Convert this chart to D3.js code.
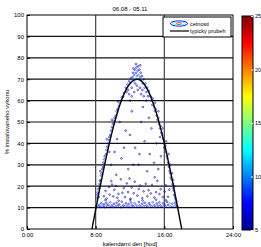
<!DOCTYPE html>
<html><head><meta charset="utf-8">
<script src="https://cdn.jsdelivr.net/npm/d3@7"></script>
<style>body{margin:0;background:#fff}svg{display:block}text{font-family:"Liberation Sans",Arial,sans-serif}</style>
</head><body>
<script>
const titleText = "06.08 - 05.11";
const xLabel = "kalendarni den [hod]";
const yLabel = "% instalovaneho vykonu";
const xTickValues = [0, 8, 16, 24];
const xTickLabels = ["0:00", "8:00", "16:00", "24:00"];
const yTickValues = [0,10,20,30,40,50,60,70,80,90,100];
const cbTickValues = [5,10,15,20,25];
const legendLabels = ["cetnosti", "typicky prubeh"];

// typical curve (hour, % value)
const curveHour = [7.57,8,8.5,9,9.5,10,10.5,11,11.5,12,12.5,12.8,13,13.5,14,14.5,15,15.5,16,16.5,17,17.5,18.03];
const curveValue = [0,9,19.3,29.1,38.4,46.7,54,60,64.8,68,69.7,70,69.9,68.5,65.5,61,55.2,48.2,40.1,31,21.4,11.1,0];

// scatter points: hour, value, count
const ptHour = [
8.05,8.1,8.15,8.12,8.2,8.25,8.3,8.4,8.45,8.5,8.6,8.62,8.7,8.75,8.85,8.9,9.0,9.05,9.2,9.25,9.35,9.45,9.55,9.6,9.7,9.8,9.9,10.0,10.1,10.2,10.35,10.45,10.55,10.7,10.8,10.95,11.05,11.2,11.3,9.3,9.9,10.6,8.35,8.55,9.6,
11.5,11.6,11.7,11.8,11.9,12.0,12.1,12.2,12.3,12.35,12.4,12.5,12.55,12.6,12.7,12.75,12.8,12.9,12.95,13.0,13.05,13.1,13.2,13.25,13.3,13.4,13.5,13.6,13.7,13.8,13.9,14.0,14.1,14.2,12.2,12.5,12.9,13.3,13.6,12.0,12.8,13.15,13.9,11.9,12.4,13.2,12.7,12.6,13.45,
14.4,14.5,14.65,14.6,14.8,14.9,15.0,15.1,15.2,15.3,15.4,15.5,15.6,15.65,15.75,15.85,15.95,16.0,16.1,16.2,16.3,16.35,16.45,16.55,16.6,16.7,16.75,16.85,16.95,17.0,17.1,17.15,17.25,17.3,17.4,17.2,16.9,16.5,16.2,15.8,15.3,14.9,16.7,17.0,15.5,
8.32,8.41,8.58,8.66,8.83,8.97,9.02,9.23,9.28,9.47,9.63,9.71,9.88,10.02,10.13,10.33,10.44,10.62,10.73,10.93,11.04,11.22,11.33,11.52,11.62,11.83,11.93,12.12,12.23,12.42,12.53,12.72,12.83,13.03,13.12,13.32,13.43,13.62,13.73,13.92,14.03,14.22,14.33,14.52,14.63,14.82,14.93,15.12,15.23,15.42,15.53,15.72,15.83,16.02,16.13,16.32,16.43,16.62,16.73,16.92,17.03,17.22,17.33,17.52,9.14,10.68,12.04,13.47,15.02,16.18,
8.95,9.15,9.27,9.55,9.62,9.83,10.04,10.18,10.36,10.52,10.66,10.93,11.12,11.27,11.41,11.63,11.78,12.06,12.19,12.43,12.57,12.86,13.02,13.17,13.44,13.58,13.83,14.03,14.16,14.42,14.57,14.84,15.03,15.18,15.43,15.57,15.82,16.04,16.17,16.43,16.58,10.41,11.94,14.88,9.91,
10.5,11.0,11.5,11.8,12.2,12.6,13.0,13.3,13.7,14.0,14.3,14.5,14.8,15.1,15.3,10.8,12.0,13.5,14.2,11.3,9.8,10.2,15.6,13.1,12.4
];
const ptValue = [
10.5,12,13,14.5,16,17,18.5,19,21,22.5,23,25,26,28,29,31,32.5,34,35,37,38.5,40,41.5,43,44,46,47.5,49,50.5,52,53,55,56,57.5,59,60,61.5,62,63.5,42,51,59.5,15,27,36,
66,64,67.5,65,69,68,70.5,66,71,73,69,72,74.5,70,73,75.5,71.5,74,76,72,70,74.5,71,73,69.5,71.5,68,70,66,68,64,66,62,64.5,62,64,65,63,62,60,67,66,60,63,75,76.5,77,68,65,
62,60,61,58,57,55,56,53,51,52,49,47,48,45,44,42,40,38,39,36,34,33,31,29,27,26,24,23,21,19,18,16,15,14,13,20,26,35,41,47,55,59,30,23,43,
10.5,11.2,10.3,12,10.8,11.5,10.2,12.3,10.9,11.4,10.4,12.5,11,10.3,11.8,10.6,12.2,10.9,11.5,10.2,12.8,11,10.5,12,10.8,11.6,10.3,12.4,11,10.5,12,11.2,10.4,12.6,11,10.3,11.8,10.7,12.3,11,10.4,12,11.2,10.5,12.5,11,10.3,11.9,10.8,12.4,11,10.4,12.1,11.3,10.6,12.7,11.2,12,10.5,11.8,10.3,12.2,11,10.5,13.5,13.2,13.6,13.3,13.7,13.4,
15.3,17.8,14.2,19.6,16.1,22.4,15.2,18.3,20.1,14.6,16.4,23.2,16.9,19.1,14.9,21.3,17.2,14.1,19.4,16.7,22.1,15.6,18.7,20.3,14.4,17.6,21.1,15.3,18.1,16.6,20.6,14.7,17.2,22.5,16.3,18.6,14.9,17.5,20.4,15.1,18.4,25.3,23.6,24.2,20.8,
42,33,46,28,55,38,30,50,41,27,35,47,31,40,28,50,44,57,52,38,30,36,34,35,30
];
const ptCount = [
9,12,14,10,8,7,9,6,8,7,6,9,7,8,6,7,8,6,7,9,6,7,8,6,7,8,6,7,9,6,7,8,6,7,9,6,7,8,6,5,6,6,5,5,6,
7,6,8,6,7,9,7,6,8,7,10,9,7,11,8,7,9,8,6,10,8,7,8,6,9,7,8,6,9,7,8,6,7,8,6,5,6,5,6,5,6,5,6,5,6,5,5,7,6,
7,8,6,7,9,6,7,8,6,7,8,6,9,7,6,7,8,6,7,8,6,9,7,6,8,7,6,9,7,8,6,7,8,6,9,6,5,5,5,6,5,5,6,5,5,
8,7,6,7,9,6,7,6,8,7,6,9,7,8,6,7,6,8,7,6,7,6,8,7,9,6,7,8,6,7,9,10,7,6,8,7,6,9,7,8,6,7,8,6,9,7,8,6,7,8,6,7,9,7,8,7,6,11,8,9,7,8,6,7,5,6,5,6,5,6,
6,5,6,5,6,5,6,5,6,5,6,5,6,5,6,5,6,5,6,5,6,5,6,5,6,5,6,5,6,5,6,5,6,5,6,5,6,5,6,5,6,5,5,6,5,
5,5,5,6,5,5,5,6,5,5,5,6,5,5,5,5,5,5,5,5,5,5,5,6,5
];

const W = 261, H = 247;
const x = d3.scaleLinear().domain([0, 24]).range([27, 233]);
const y = d3.scaleLinear().domain([0, 100]).range([229, 15]);
const jetStops = ["#00008f","#0000ff","#0080ff","#00ffff","#80ff80","#ffff00","#ff8000","#ff0000","#800000"];
const jet = d3.scaleLinear().domain(d3.range(jetStops.length).map(i => i/(jetStops.length-1))).range(jetStops);
const cScale = d3.scaleLinear().domain([5, 25]).range([0, 1]).clamp(true);
const cbY = d3.scaleLinear().domain([5, 25]).range([230, 16]);

const svg = d3.select("body").append("svg").attr("width", W).attr("height", H);
svg.append("defs").append("clipPath").attr("id","pc").append("rect")
  .attr("x", 27).attr("y", 15).attr("width", 206).attr("height", 214);

// grid
const g = svg.append("g");
g.selectAll("line.h").data(yTickValues.slice(1, -1)).enter().append("line")
  .attr("x1", x(0)).attr("x2", x(24)).attr("y1", d => y(d)).attr("y2", d => y(d))
  .attr("stroke", "#111").attr("stroke-width", 1.2);
g.selectAll("line.v").data(xTickValues.slice(1, -1)).enter().append("line")
  .attr("x1", d => x(d)).attr("x2", d => x(d)).attr("y1", y(0)).attr("y2", y(100))
  .attr("stroke", "#444").attr("stroke-width", 1.2);

// points
const pts = ptHour.map((h, i) => ({h, v: ptValue[i], c: ptCount[i]}));
pts.sort((a, b) => a.c - b.c);
svg.append("g").attr("clip-path","url(#pc)").selectAll("circle").data(pts).enter().append("circle")
  .attr("cx", d => x(d.h)).attr("cy", d => y(d.v)).attr("r", 0.85)
  .attr("fill", "none").attr("stroke", d => jet(cScale(d.c))).attr("stroke-width", 0.6);

// curve
const line = d3.line().x(d => x(d[0])).y(d => y(d[1])).curve(d3.curveMonotoneX);
svg.append("path").attr("clip-path","url(#pc)").datum(curveHour.map((h, i) => [h, curveValue[i]]))
  .attr("d", line).attr("fill", "none").attr("stroke", "#000").attr("stroke-width", 1.4);

// frame
svg.append("rect").attr("x", 27).attr("y", 15).attr("width", 206).attr("height", 214)
  .attr("fill", "none").attr("stroke", "#000").attr("stroke-width", 1);

// axes
const ax = svg.append("g").attr("transform", `translate(0,${y(0)})`)
  .call(d3.axisBottom(x).tickValues(xTickValues).tickFormat((d, i) => xTickLabels[i]).tickSize(-3).tickPadding(4));
const ay = svg.append("g").attr("transform", `translate(${x(0)},0)`)
  .call(d3.axisLeft(y).tickValues(yTickValues).tickSize(-3).tickPadding(3));
[ax, ay].forEach(a => {
  a.select(".domain").remove();
  a.selectAll("text").attr("font-size", 6).attr("font-family", "Liberation Sans, Arial, sans-serif").attr("fill", "#000");
  a.selectAll("line").attr("stroke", "#000");
});

// title and labels
svg.append("text").attr("x", 130).attr("y", 11).attr("text-anchor", "middle").attr("font-size", 6).text(titleText);
svg.append("text").attr("x", 130).attr("y", 246).attr("text-anchor", "middle").attr("font-size", 6).text(xLabel);
svg.append("text").attr("transform", "translate(9,122) rotate(-90)").attr("text-anchor", "middle").attr("font-size", 6).text(yLabel);

// legend
const lg = svg.append("g");
lg.append("rect").attr("x", 163).attr("y", 17).attr("width", 68).attr("height", 20)
  .attr("fill", "#fff").attr("stroke", "#000").attr("stroke-width", 1);
lg.append("ellipse").attr("cx", 179).attr("cy", 23.5).attr("rx", 8.5).attr("ry", 2.6).attr("fill", "none").attr("stroke", jet(0.15)).attr("stroke-width", 1);
lg.append("ellipse").attr("cx", 179).attr("cy", 23.5).attr("rx", 5.5).attr("ry", 1.6).attr("fill", "none").attr("stroke", jet(0.4)).attr("stroke-width", 0.8);
lg.append("ellipse").attr("cx", 179).attr("cy", 23.5).attr("rx", 2.5).attr("ry", 0.9).attr("fill", "none").attr("stroke", jet(0.85)).attr("stroke-width", 0.8);
lg.append("line").attr("x1", 170).attr("x2", 189).attr("y1", 31).attr("y2", 31).attr("stroke", "#000").attr("stroke-width", 1.2);
lg.append("text").attr("x", 190).attr("y", 25.5).attr("font-size", 5.5).text(legendLabels[0]);
lg.append("text").attr("x", 190).attr("y", 33).attr("font-size", 5.5).text(legendLabels[1]);

// colorbar
const grad = svg.select("defs").append("linearGradient").attr("id", "jetg")
  .attr("x1", 0).attr("y1", 1).attr("x2", 0).attr("y2", 0);
jetStops.forEach((c, i) => grad.append("stop").attr("offset", i/(jetStops.length-1)).attr("stop-color", c));
svg.append("rect").attr("x", 242).attr("y", cbY(25)).attr("width", 11).attr("height", cbY(5) - cbY(25))
  .attr("fill", "url(#jetg)").attr("stroke", "#000").attr("stroke-width", 1);
const cbG = svg.append("g").attr("transform", "translate(253,0)")
  .call(d3.axisRight(cbY).tickValues(cbTickValues).tickSize(-2).tickPadding(2));
cbG.select(".domain").remove();
cbG.selectAll("line").attr("stroke", "#fff");
cbG.selectAll("text").attr("font-size", 5.5).attr("font-family", "Liberation Sans, Arial, sans-serif").attr("fill", "#000");
</script>
</body></html>
